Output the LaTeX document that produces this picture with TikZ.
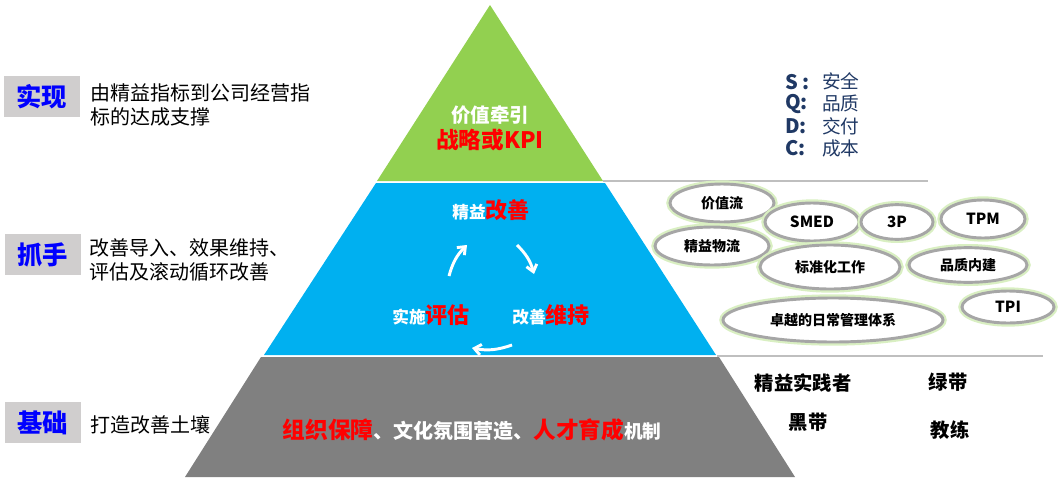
\documentclass[tikz,border=0pt]{standalone}
\usepackage{fontspec}
\setmainfont{Noto Sans CJK SC}
\usetikzlibrary{positioning,arrows.meta,shapes.geometric}
\definecolor{lvse}{HTML}{92D050}
\definecolor{lanse}{HTML}{00B0F0}
\definecolor{huise}{HTML}{808080}
\definecolor{tagbg}{HTML}{D0CECE}
\definecolor{tagblue}{HTML}{0000FF}
\definecolor{navy}{HTML}{1F3864}
\definecolor{rimgray}{HTML}{A6A6A6}
\definecolor{rulegray}{HTML}{BFBFBF}
\tikzset{
  tagbox/.style={fill=tagbg, minimum width=57pt, minimum height=31pt, inner sep=0pt,
    text=tagblue, font=\fontsize{19}{19}\selectfont\bfseries},
  desc/.style={anchor=west, align=left, inner sep=0pt, font=\fontsize{15}{18}\selectfont},
  bubble/.style={ellipse, draw=rimgray, line width=2.2pt, fill=white, inner sep=0pt,
    font=\fontsize{10.5}{10.5}\selectfont\bfseries, preaction={draw=lvse!35, line width=5.5pt}},
  latin/.style={font=\fontsize{11.5}{11.5}\selectfont\bfseries},
  sqdc/.style={anchor=west, inner sep=0pt, text=navy},
  belt/.style={inner sep=0pt, font=\fontsize{14.5}{14.5}\selectfont\bfseries},
  cyc/.style={white, line width=2.2pt, -{Straight Barb[length=5pt,width=8pt]}},
}
\newcommand{\hong}[2][17]{{\color{red}\fontsize{#1}{#1}\selectfont #2}}

\begin{document}
\begin{tikzpicture}[x=0.75pt,y=-0.75pt]
  \useasboundingbox (0,0) rectangle (1060,482);

  % 金字塔三层
  \fill[lvse] (490,5) -- (603,181) -- (377,181) -- cycle;
  \fill[lanse] (376,183) -- (605,183) -- (716,355) -- (264,355) -- cycle;
  \fill[huise] (261,357) -- (719,357) -- (795,477) -- (185,477) -- cycle;

  % 右侧分隔线
  \coordinate (l1a) at (603,181);
  \coordinate (l1b) at (928,181);
  \coordinate (l2a) at (717,356);
  \coordinate (l2b) at (1043,356);
  \draw[rulegray, line width=1.2pt] (l1a) -- (l1b);
  \draw[rulegray, line width=1.2pt] (l2a) -- (l2b);

  % 左侧标签
  \node[tagbox] (shixian) at (42,96.5) {实现};
  \node[desc] (shixiand) at (90,105) {由精益指标到公司经营指\\标的达成支撑};
  \node[tagbox] (zhuashou) at (42.5,254.5) {抓手};
  \node[desc] (zhuashoud) at (89,260) {改善导入、效果维持、\\评估及滚动循环改善};
  \node[tagbox] (jichu) at (42.5,422.5) {基础};
  \node[desc] (jichud) at (90,425) {打造改善土壤};

  % 顶层
  \node[inner sep=0pt, text=white, font=\fontsize{14.6}{14.6}\selectfont\bfseries] (jiazhi) at (490,115) {价值牵引};
  \node[inner sep=0pt, text=red, font=\fontsize{17}{17}\selectfont\bfseries] (zhanlue) at (490,140) {战略或KPI};

  % SQDC
  \node[sqdc, font=\fontsize{15}{15}\selectfont\bfseries] (s) at (785,82) {S :};
  \node[sqdc, font=\fontsize{15}{15}\selectfont\bfseries] (q) at (785,104) {Q:};
  \node[sqdc, font=\fontsize{15}{15}\selectfont\bfseries] (d) at (785,126) {D:};
  \node[sqdc, font=\fontsize{15}{15}\selectfont\bfseries] (c) at (785,148) {C:};
  \node[sqdc, font=\fontsize{14}{14}\selectfont] (sw) at (822,81) {安全};
  \node[sqdc, font=\fontsize{14}{14}\selectfont] (qw) at (822,103) {品质};
  \node[sqdc, font=\fontsize{14}{14}\selectfont] (dw) at (822,126) {交付};
  \node[sqdc, font=\fontsize{14}{14}\selectfont] (cw) at (822,148) {成本};

  % 中层循环
  \node[inner sep=0pt, text=white, font=\fontsize{12.5}{12.5}\selectfont\bfseries] (gaishan) at (491,210) {精益\hong[16.5]{改善}};
  \node[inner sep=0pt, text=white, font=\fontsize{12.5}{12.5}\selectfont\bfseries] (pinggu) at (431,315) {实施\hong[16.5]{评估}};
  \node[inner sep=0pt, text=white, font=\fontsize{12.5}{12.5}\selectfont\bfseries] (weichi) at (551,315) {改善\hong[16.5]{维持}};
  \coordinate (a1s) at (449,276);
  \coordinate (a1e) at (467,245);
  \coordinate (a2s) at (517,245);
  \coordinate (a2e) at (534,274);
  \coordinate (a3s) at (512,345);
  \coordinate (a3e) at (472,348);
  \draw[cyc] (a1s) to[bend left=15] (a1e);
  \draw[cyc] (a2s) to[bend left=15] (a2e);
  \draw[cyc] (a3s) to[bend left=15] (a3e);

  % 工具椭圆
  \node[bubble, minimum width=78pt, minimum height=28.5pt] (vsm) at (722,203) {价值流};
  \node[bubble, minimum width=85.5pt, minimum height=28.5pt] (wuliu) at (712,246) {精益物流};
  \node[bubble, latin, minimum width=70.5pt, minimum height=28.5pt] (smed) at (812,222) {SMED};
  \node[bubble, latin, minimum width=54pt, minimum height=26pt] (sanp) at (897,222) {3P};
  \node[bubble, latin, minimum width=63pt, minimum height=28.5pt] (tpm) at (983,219) {TPM};
  \node[bubble, minimum width=105pt, minimum height=33pt] (biaozhun) at (830,267) {标准化工作};
  \node[bubble, minimum width=88.5pt, minimum height=26pt] (neijian) at (968,265) {品质内建};
  \node[bubble, minimum width=165pt, minimum height=33pt] (richang) at (833,320) {卓越的日常管理体系};
  \node[bubble, latin, minimum width=69pt, minimum height=24pt] (tpi) at (1008,307) {TPI};

  % 底层
  \node[inner sep=0pt, text=white, font=\fontsize{15}{15}\selectfont\bfseries] (jizhi) at (472,430)
    {\hong{组织保障}、文化氛围营造、\hong{人才育成}{\fontsize{14}{14}\selectfont 机制}};
  \node[belt] (shijian) at (803,383) {精益实践者};
  \node[belt] (lvdai) at (948,382) {绿带};
  \node[belt] (heidai) at (808,422) {黑带};
  \node[belt] (jiaolian) at (950,430) {教练};
\end{tikzpicture}
\end{document}
